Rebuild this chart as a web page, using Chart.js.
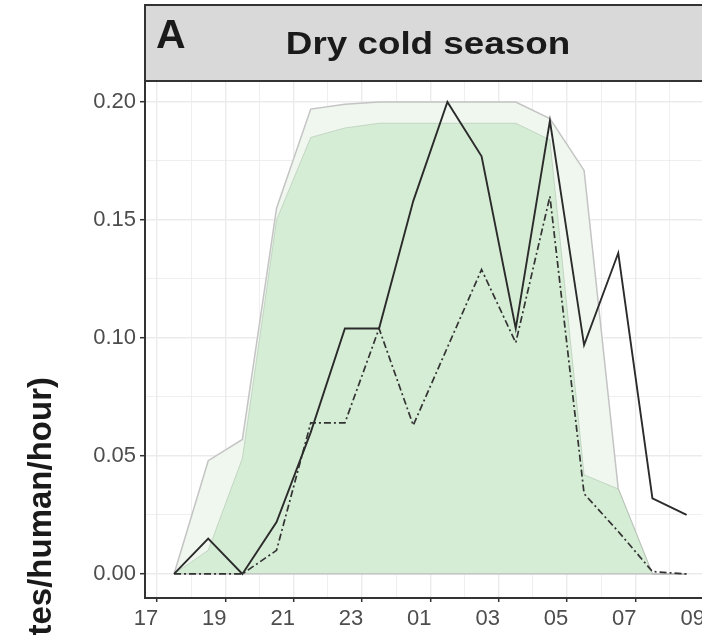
<!DOCTYPE html>
<html>
<head>
<meta charset="utf-8">
<script src="https://cdn.jsdelivr.net/npm/chart.js@4/dist/chart.umd.min.js"></script>
<style>
  html, body { margin: 0; padding: 0; background: #fff; overflow: hidden; }
  #wrap { width: 720px; height: 636px; }
</style>
</head>
<body>
<div id="wrap"><canvas id="myChart" width="720" height="636"></canvas></div>
<script>
// sampling hours (clock time, half past each hour)
const hours = [17.5, 18.5, 19.5, 20.5, 21.5, 22.5, 23.5, 0.5, 1.5, 2.5, 3.5, 4.5, 5.5, 6.5, 7.5, 8.5];

const solidSeries   = [0, 0.015, 0, 0.022, 0.060, 0.104, 0.104, 0.158, 0.200, 0.177, 0.104, 0.192, 0.097, 0.136, 0.032, 0.025];
const dashDotSeries = [0, 0, 0, 0.010, 0.064, 0.064, 0.104, 0.063, 0.096, 0.129, 0.098, 0.160, 0.034, 0.018, 0.001, 0];

// ribbons (lower bound / upper bound)
const outerLower = [0, 0, 0, 0, 0, 0, 0, 0, 0, 0, 0, 0, 0, 0, 0, 0];
const outerUpper = [0, 0.048, 0.057, 0.155, 0.197, 0.199, 0.200, 0.200, 0.200, 0.200, 0.200, 0.193, 0.171, 0.036, 0, 0];
const innerLower = [0, 0, 0, 0, 0, 0, 0, 0, 0, 0, 0, 0, 0, 0, 0, 0];
const innerUpper = [0, 0.010, 0.049, 0.150, 0.185, 0.189, 0.191, 0.191, 0.191, 0.191, 0.191, 0.184, 0.042, 0.036, 0, 0];

const xTickLabels = ['17', '19', '21', '23', '01', '03', '05', '07', '09'];
const yTickLabels = ['0.00', '0.05', '0.10', '0.15', '0.20'];

const FONT = "'Liberation Sans', Arial, Helvetica, sans-serif";

// hours since 17:00
const toPos = h => (h - 17 + 24) % 24;
const pts = arr => arr.map((v, i) => ({ x: toPos(hours[i]), y: v }));

const xGrid = [];
for (let i = 0; i <= 16; i++) xGrid.push(i);
const yGrid = [];
for (let i = 0; i <= 8; i++) yGrid.push(i * 0.025);

const isMajorY = v => Math.abs(v / 0.05 - Math.round(v / 0.05)) < 1e-6;

const stripPlugin = {
    id: 'strip',
    afterDraw(chart) {
        const ctx = chart.ctx;
        const left = chart.chartArea.left;
        ctx.save();
        // facet strip
        ctx.fillStyle = '#d9d9d9';
        ctx.fillRect(left, 5, 720 - left + 10, 76);
        ctx.strokeStyle = '#333333';
        ctx.lineWidth = 2;
        ctx.strokeRect(left, 5, 720 - left + 10, 76);
        ctx.fillStyle = '#1a1a1a';
        ctx.textBaseline = 'alphabetic';
        ctx.font = 'bold 41px ' + FONT;
        ctx.textAlign = 'left';
        ctx.fillText('A', 156, 48);
        ctx.save();
        ctx.translate(428, 54);
        ctx.scale(1.15, 1);
        ctx.font = 'bold 32px ' + FONT;
        ctx.textAlign = 'center';
        ctx.fillText('Dry cold season', 0, 0);
        ctx.restore();
        // y axis title
        ctx.save();
        ctx.translate(51, 377);
        ctx.rotate(-Math.PI / 2);
        ctx.font = 'bold 33px ' + FONT;
        ctx.textAlign = 'right';
        ctx.fillText('Human biting rate (bites/human/hour)', 0, 0);
        ctx.restore();
        ctx.restore();
    }
};

const config = {
    type: 'line',
    data: {
        datasets: [
            {
                data: pts(outerLower), borderWidth: 0, pointRadius: 0, fill: false, order: 6
            },
            {
                data: pts(outerUpper), borderColor: '#c4c4c4', borderWidth: 1.5, pointRadius: 0,
                backgroundColor: '#eff7ef', fill: '-1', order: 5
            },
            {
                data: pts(innerLower), borderColor: '#bdbdbd', borderWidth: 1.2, pointRadius: 0, fill: false, order: 3
            },
            {
                data: pts(innerUpper), borderColor: 'rgba(160,180,160,0.45)', borderWidth: 1, pointRadius: 0,
                backgroundColor: '#d5ecd5', fill: '-1', order: 4
            },
            {
                data: pts(dashDotSeries), borderColor: '#333333', borderWidth: 1.7, borderDash: [7, 3, 2, 3],
                pointRadius: 0, fill: false, order: 1
            },
            {
                data: pts(solidSeries), borderColor: '#2b2b2b', borderWidth: 1.9, pointRadius: 0, fill: false, order: 0
            }
        ]
    },
    options: {
        responsive: false,
        animation: false,
        events: [],
        layout: { padding: { left: 0, top: 81, right: 9, bottom: 0 } },
        plugins: { legend: { display: false }, tooltip: { enabled: false } },
        elements: { line: { tension: 0 } },
        scales: {
            x: {
                type: 'linear',
                min: -0.35,
                max: 16.15,
                afterFit(s) { s.height = 38; },
                afterBuildTicks(s) { s.ticks = xGrid.map(v => ({ value: v })); },
                ticks: {
                    autoSkip: false,
                    maxRotation: 0,
                    labelOffset: -11,
                    padding: 4,
                    color: '#4d4d4d',
                    font: { family: FONT, size: 22 },
                    callback: v => (v % 2 === 0 ? xTickLabels[v / 2] : '')
                },
                grid: {
                    color: '#ebebeb',
                    lineWidth: c => (c.tick && c.tick.value % 2 === 0 ? 1.4 : 0.8),
                    tickLength: 4,
                    tickWidth: 1.5,
                    tickColor: c => (c.tick && c.tick.value % 2 === 0 ? '#333333' : 'rgba(0,0,0,0)')
                },
                border: { color: '#333333', width: 2 }
            },
            y: {
                type: 'linear',
                min: -0.0102,
                max: 0.2089,
                afterFit(s) { s.width = 145; },
                afterBuildTicks(s) { s.ticks = yGrid.map(v => ({ value: v })); },
                ticks: {
                    autoSkip: false,
                    padding: 4,
                    color: '#4d4d4d',
                    font: { family: FONT, size: 22 },
                    callback: v => (isMajorY(v) ? yTickLabels[Math.round(v / 0.05)] : '')
                },
                grid: {
                    color: '#ebebeb',
                    lineWidth: c => (c.tick && isMajorY(c.tick.value) ? 1.4 : 0.8),
                    tickLength: 5,
                    tickWidth: 1.5,
                    tickColor: c => (c.tick && isMajorY(c.tick.value) ? '#333333' : 'rgba(0,0,0,0)')
                },
                border: { color: '#333333', width: 2 }
            }
        }
    },
    plugins: [stripPlugin]
};

var myChart = new Chart(document.getElementById('myChart'), config);
</script>
</body>
</html>
